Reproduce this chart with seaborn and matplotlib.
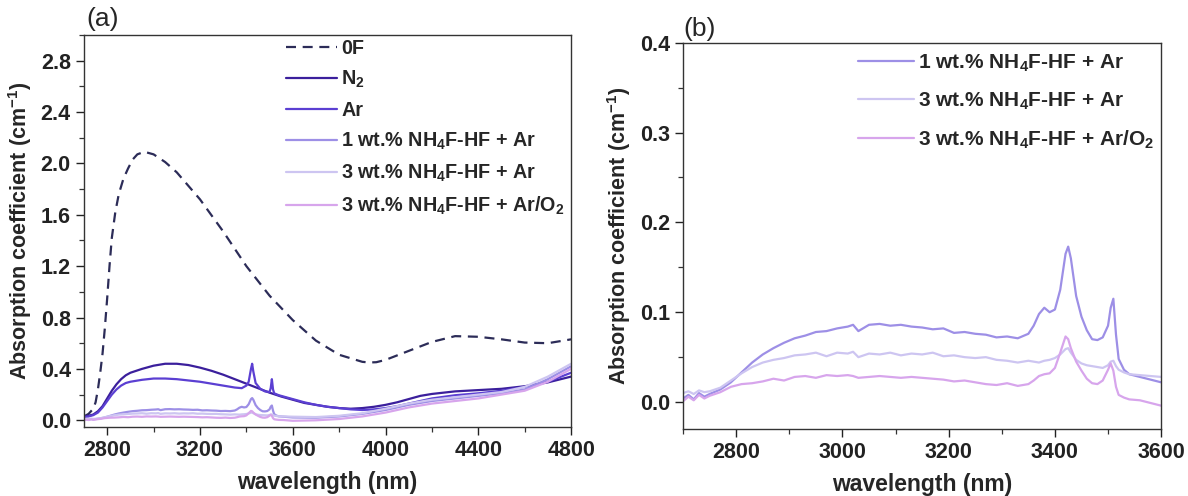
# Absorption coefficient of the fibre samples, two panels:
# (a) full range 2700-4800 nm, (b) zoom on the treated samples 2700-3600 nm
import pandas as pd
import matplotlib
matplotlib.use("Agg")
import matplotlib.pyplot as plt
from matplotlib.ticker import MultipleLocator
import seaborn as sns

# ---- data ----
labels = ["0F", "N$_2$", "Ar",
          "1 wt.% NH$_4$F-HF + Ar",
          "3 wt.% NH$_4$F-HF + Ar",
          "3 wt.% NH$_4$F-HF + Ar/O$_2$"]
colors = ["#2c2c58", "#3b1f9c", "#5b3fd2", "#9d8fe6", "#cdc5f1", "#d7a5ec"]

wl_0f = [2700, 2720, 2740, 2750, 2760, 2770, 2780, 2790, 2800, 2810, 2820,
         2835, 2850, 2870, 2890, 2910, 2930, 2960, 3000, 3050, 3100, 3200,
         3300, 3400, 3500, 3600, 3700, 3800, 3900, 3930, 3960, 4000, 4100,
         4200, 4300, 4400, 4500, 4600, 4700, 4800]
abs_0f = [0.03, 0.05, 0.09, 0.14, 0.24, 0.37, 0.52, 0.72, 0.95, 1.2, 1.42,
          1.62, 1.76, 1.88, 1.96, 2.03, 2.07, 2.09, 2.07, 2.01, 1.93, 1.72,
          1.47, 1.2, 0.97, 0.78, 0.62, 0.51, 0.455, 0.45, 0.452, 0.47, 0.54,
          0.61, 0.655, 0.65, 0.63, 0.605, 0.6, 0.63]

wl_n2 = [2700, 2720, 2740, 2760, 2780, 2800, 2820, 2840, 2860, 2880, 2900,
         2950, 3000, 3050, 3100, 3150, 3200, 3250, 3300, 3350, 3400, 3450,
         3500, 3550, 3600, 3650, 3700, 3750, 3800, 3850, 3900, 3950, 4000,
         4050, 4100, 4150, 4200, 4300, 4400, 4500, 4600, 4700, 4800]
abs_n2 = [0.03, 0.035, 0.045, 0.07, 0.11, 0.17, 0.23, 0.28, 0.32, 0.35, 0.37,
          0.40, 0.425, 0.44, 0.44, 0.43, 0.41, 0.385, 0.355, 0.32, 0.285, 0.25,
          0.215, 0.185, 0.16, 0.135, 0.12, 0.105, 0.095, 0.09, 0.095, 0.105, 0.12,
          0.14, 0.165, 0.19, 0.205, 0.225, 0.235, 0.245, 0.265, 0.295, 0.34]

wl_ar = [2700, 2720, 2740, 2760, 2780, 2800, 2820, 2840, 2860, 2880, 2900,
         2950, 3000, 3050, 3100, 3150, 3200, 3250, 3300, 3350,
         3380, 3400, 3410, 3420, 3425, 3430, 3440, 3460, 3480, 3500, 3505,
         3510, 3515, 3520, 3540,
         3600, 3650, 3700, 3750, 3800, 3850, 3900, 3950, 4000, 4050, 4100,
         4150, 4200, 4300, 4400, 4500, 4600, 4700, 4800]
abs_ar = [0.025, 0.03, 0.04, 0.06, 0.10, 0.15, 0.20, 0.24, 0.27, 0.29, 0.30,
          0.315, 0.325, 0.325, 0.32, 0.31, 0.30, 0.285, 0.27, 0.255,
          0.25, 0.27, 0.30, 0.40, 0.44, 0.38, 0.29, 0.245, 0.225, 0.22, 0.25,
          0.32, 0.24, 0.21, 0.195,
          0.165, 0.14, 0.12, 0.105, 0.095, 0.085, 0.08, 0.085, 0.095, 0.11, 0.13,
          0.15, 0.17, 0.195, 0.21, 0.23, 0.26, 0.30, 0.37]

# the three NH4F-HF treated samples share one wavelength grid
wl_hf = [2700, 2710, 2720, 2730, 2740, 2750, 2770, 2790, 2810, 2830, 2850,
         2870, 2890, 2910, 2930, 2950, 2970, 2990, 3010, 3020, 3030, 3050,
         3070, 3090, 3110, 3130, 3150, 3170, 3190, 3210, 3230, 3250, 3270,
         3290, 3310, 3330, 3350, 3360, 3370, 3380, 3390, 3400, 3410, 3420,
         3425, 3430, 3440, 3450, 3460, 3470, 3480, 3490, 3500, 3505, 3510,
         3515, 3520, 3530, 3540, 3560, 3580, 3600, 3700, 3800, 3900, 4000,
         4100, 4200, 4300, 4400, 4500, 4600, 4700, 4800]
abs_1wt = [0.004, 0.008, 0.003, 0.010, 0.006, 0.009, 0.014, 0.022, 0.033, 0.044, 0.053,
           0.060, 0.066, 0.071, 0.074, 0.078, 0.079, 0.082, 0.084, 0.086, 0.079, 0.086,
           0.087, 0.085, 0.086, 0.084, 0.083, 0.081, 0.082, 0.077, 0.078, 0.076, 0.075,
           0.072, 0.073, 0.071, 0.076, 0.085, 0.098, 0.105, 0.100, 0.103, 0.125, 0.165,
           0.173, 0.160, 0.118, 0.095, 0.080, 0.070, 0.069, 0.072, 0.085, 0.105, 0.115,
           0.075, 0.048, 0.036, 0.031, 0.028, 0.025, 0.022, 0.02, 0.03, 0.05, 0.08,
           0.12, 0.15, 0.17, 0.19, 0.21, 0.24, 0.32, 0.42]
abs_3wt = [0.010, 0.012, 0.009, 0.013, 0.011, 0.012, 0.016, 0.024, 0.032, 0.039, 0.044,
           0.047, 0.049, 0.052, 0.053, 0.055, 0.051, 0.055, 0.054, 0.056, 0.050, 0.054,
           0.053, 0.055, 0.052, 0.054, 0.053, 0.055, 0.051, 0.052, 0.050, 0.049, 0.050,
           0.047, 0.046, 0.044, 0.046, 0.045, 0.044, 0.046, 0.047, 0.049, 0.053, 0.059,
           0.060, 0.055, 0.047, 0.043, 0.041, 0.040, 0.039, 0.038, 0.041, 0.045, 0.046,
           0.040, 0.036, 0.033, 0.031, 0.030, 0.029, 0.028, 0.025, 0.035, 0.055, 0.09,
           0.13, 0.16, 0.18, 0.20, 0.22, 0.26, 0.34, 0.44]
abs_3wt_o2 = [0.001, 0.006, 0.002, 0.008, 0.004, 0.007, 0.011, 0.017, 0.020, 0.021, 0.023,
              0.026, 0.024, 0.028, 0.029, 0.027, 0.030, 0.029, 0.030, 0.029, 0.027, 0.028,
              0.029, 0.028, 0.027, 0.028, 0.027, 0.026, 0.025, 0.023, 0.024, 0.022, 0.020,
              0.019, 0.021, 0.018, 0.020, 0.024, 0.029, 0.031, 0.032, 0.038, 0.055, 0.073,
              0.070, 0.060, 0.045, 0.035, 0.026, 0.021, 0.020, 0.024, 0.036, 0.043, 0.035,
              0.017, 0.008, 0.005, 0.003, 0.002, -0.001, -0.004, 0.0, 0.01, 0.03, 0.06,
              0.10, 0.13, 0.15, 0.17, 0.20, 0.23, 0.30, 0.40]

series = [(wl_0f, abs_0f), (wl_n2, abs_n2), (wl_ar, abs_ar),
          (wl_hf, abs_1wt), (wl_hf, abs_3wt), (wl_hf, abs_3wt_o2)]

# ---- style ----
sns.set_theme(style="ticks")
plt.rcParams["font.family"] = ["Liberation Sans", "DejaVu Sans"]
plt.rcParams["font.weight"] = "bold"
plt.rcParams["axes.labelweight"] = "bold"
plt.rcParams["mathtext.fontset"] = "custom"
plt.rcParams["mathtext.rm"] = "Liberation Sans:bold"
plt.rcParams["mathtext.bf"] = "Liberation Sans:bold"
plt.rcParams["mathtext.it"] = "Liberation Sans:bold"
plt.rcParams["mathtext.default"] = "bf"

fig = plt.figure(figsize=(11.88, 4.96), dpi=100)
ax_a = fig.add_axes([0.0707, 0.1397, 0.41, 0.790])
ax_b = fig.add_axes([0.575, 0.135, 0.4024, 0.779])


def draw(ax, idx):
    for i in idx:
        wl, val = series[i]
        df = pd.DataFrame({"wavelength": wl, "absorption": val})
        ls = "--" if i == 0 else "-"
        line = sns.lineplot(data=df, x="wavelength", y="absorption", ax=ax,
                            color=colors[i], lw=1.6, ls=ls, label=labels[i])
        if i == 0:
            line.lines[-1].set_dashes((4.5, 3))


def style_axes(ax):
    for s in ax.spines.values():
        s.set_color("#333333")
        s.set_linewidth(1.0)
    ax.tick_params(which="major", direction="out", length=6, width=1.0,
                   labelsize=15.5, colors="#222222")
    ax.tick_params(which="minor", direction="out", length=3.5, width=0.9,
                   colors="#333333")
    ax.set_xlabel("wavelength (nm)", fontsize=16.5, labelpad=7)
    ax.set_ylabel("Absorption coefficient (cm$^{-1}$)", fontsize=15.5, labelpad=5)
    for t in ax.get_xticklabels() + ax.get_yticklabels():
        t.set_fontweight("bold")


# (a) all samples
draw(ax_a, range(6))
ax_a.set_xlim(2700, 4800)
ax_a.set_ylim(-0.05, 3.0)
ax_a.xaxis.set_major_locator(MultipleLocator(400))
ax_a.xaxis.set_minor_locator(MultipleLocator(200))
ax_a.yaxis.set_major_locator(MultipleLocator(0.4))
ax_a.yaxis.set_minor_locator(MultipleLocator(0.2))
ax_a.set_xticks([2800, 3200, 3600, 4000, 4400, 4800])
style_axes(ax_a)
ax_a.legend(loc="upper left", bbox_to_anchor=(0.415, 0.99), frameon=False,
            fontsize=14.2, handlelength=2.6, handletextpad=0.2,
            labelspacing=0.55, borderpad=0, borderaxespad=0)
ax_a.text(0.005, 1.01, "(a)", transform=ax_a.transAxes, fontsize=19,
          fontweight="normal", ha="left", va="bottom")

# (b) zoom on the NH4F-HF treated samples
draw(ax_b, [3, 4, 5])
ax_b.set_xlim(2700, 3600)
ax_b.set_ylim(-0.03, 0.4)
ax_b.xaxis.set_major_locator(MultipleLocator(200))
ax_b.xaxis.set_minor_locator(MultipleLocator(100))
ax_b.yaxis.set_major_locator(MultipleLocator(0.1))
ax_b.yaxis.set_minor_locator(MultipleLocator(0.05))
ax_b.set_xticks([2800, 3000, 3200, 3400, 3600])
style_axes(ax_b)
ax_b.legend(loc="upper left", bbox_to_anchor=(0.365, 0.975), frameon=False,
            fontsize=15, handlelength=2.7, handletextpad=0.2,
            labelspacing=0.8, borderpad=0, borderaxespad=0)
ax_b.text(0.0, 1.005, "(b)", transform=ax_b.transAxes, fontsize=19,
          fontweight="normal", ha="left", va="bottom")

fig.savefig("out.png", dpi=100)
